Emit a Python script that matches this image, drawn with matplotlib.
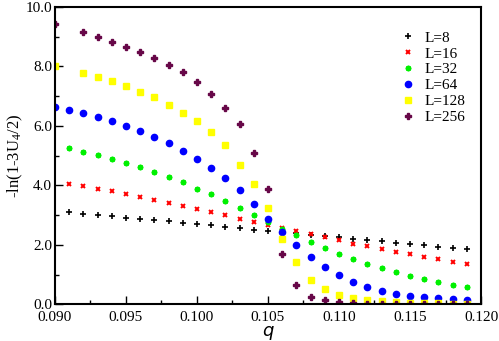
import numpy as np
import matplotlib
matplotlib.use('Agg')
import matplotlib.pyplot as plt
from matplotlib.ticker import MultipleLocator, FormatStrFormatter

## Datos
q = [0.090, 0.091, 0.092, 0.093, 0.094, 0.095, 0.096, 0.097, 0.098, 0.099,
     0.100, 0.101, 0.102, 0.103, 0.104, 0.105, 0.106, 0.107, 0.108, 0.109,
     0.110, 0.111, 0.112, 0.113, 0.114, 0.115, 0.116, 0.117, 0.118, 0.119]

# L=8, 16, 32 arrancan en q=0.091
y_L8 = [3.10, 3.05, 3.01, 2.96, 2.92, 2.87, 2.84, 2.79, 2.75, 2.70, 2.66, 2.61, 2.56, 2.51,
        2.48, 2.43, 2.39, 2.33, 2.29, 2.26, 2.21, 2.17, 2.12, 2.07, 2.03, 1.99, 1.94, 1.90, 1.86]
y_L16 = [4.06, 3.97, 3.89, 3.80, 3.72, 3.61, 3.51, 3.42, 3.31, 3.21, 3.11, 3.00, 2.88, 2.78,
         2.67, 2.56, 2.46, 2.36, 2.26, 2.15, 2.04, 1.95, 1.85, 1.76, 1.68, 1.59, 1.52, 1.42, 1.36]
y_L32 = [5.25, 5.14, 5.03, 4.89, 4.76, 4.61, 4.44, 4.28, 4.11, 3.89, 3.70, 3.48, 3.24, 3.02,
         2.78, 2.55, 2.33, 2.11, 1.90, 1.70, 1.53, 1.36, 1.21, 1.08, 0.95, 0.84, 0.75, 0.66, 0.59]
# L=64 desde q=0.090
y_L64 = [6.65, 6.55, 6.42, 6.30, 6.15, 5.99, 5.82, 5.62, 5.43, 5.17, 4.90, 4.59, 4.26, 3.83, 3.38,
         2.88, 2.44, 1.99, 1.59, 1.25, 0.98, 0.75, 0.58, 0.46, 0.36, 0.29, 0.25, 0.20, 0.18, 0.14]
# L=128, 256: q=0.090 y luego desde 0.092
y_L128 = [8.02, 7.78, 7.64, 7.50, 7.34, 7.15, 6.96, 6.71, 6.45, 6.16, 5.79, 5.35, 4.70, 4.05,
          3.25, 2.20, 1.42, 0.82, 0.53, 0.31, 0.22, 0.16, 0.11, 0.07, 0.05, 0.04, 0.03, 0.02, 0.02]
y_L256 = [9.43, 9.16, 9.00, 8.83, 8.67, 8.49, 8.30, 8.06, 7.80, 7.47, 7.07, 6.62, 6.05, 5.09,
          3.88, 1.68, 0.65, 0.26, 0.16, 0.09, 0.05, 0.02, 0.01, 0.01, 0.01, 0.0, 0.0, 0.0, 0.0]

labels = ['L=8', 'L=16', 'L=32', 'L=64', 'L=128', 'L=256']

q_tail = q[1:]
q_skip = q[:1] + q[2:]

series = [
    (q_tail, y_L8, '+', 'black', 5, 1.2),
    (q_tail, y_L16, 'x', '#ff0000', 3.5, 1.4),
    (q_tail, y_L32, (8, 2, 0), '#00f000', 4, 1.3),
    (q, y_L64, 'o', '#0000ff', 4.5, 0),
    (q_skip, y_L128, 's', '#ffff00', 4, 0),
    (q_skip, y_L256, 'P', '#670748', 4.5, 0),
]

plt.rcParams['font.family'] = ['Liberation Serif', 'DejaVu Serif']
plt.rcParams['mathtext.fontset'] = 'custom'
plt.rcParams['mathtext.rm'] = 'Liberation Serif'
plt.rcParams['mathtext.it'] = 'Liberation Serif:italic'

fig = plt.figure(figsize=(4.99, 3.41), dpi=100)
ax = fig.add_axes([0.110, 0.1076, 0.854, 0.8718])

for (xx, yy, mk, col, ms, mew), lab in zip(series, labels):
    if mew > 0:
        ax.plot(xx, yy, ls='none', marker=mk, color=col, ms=ms, mew=mew, label=lab)
    else:
        ax.plot(xx, yy, ls='none', marker=mk, color=col, ms=ms, mec=col, label=lab)

ax.set_xlim(0.090, 0.120)
ax.set_ylim(0.0, 10.0)

ax.xaxis.set_major_locator(MultipleLocator(0.005))
ax.xaxis.set_minor_locator(MultipleLocator(0.0025))
ax.yaxis.set_major_locator(MultipleLocator(2.0))
ax.yaxis.set_minor_locator(MultipleLocator(1.0))
ax.xaxis.set_major_formatter(FormatStrFormatter('%.3f'))
ax.yaxis.set_major_formatter(FormatStrFormatter('%.1f'))

ax.tick_params(which='both', direction='in', top=False, right=False, labelsize=11, width=1.0)
ax.tick_params(which='major', length=6)
ax.tick_params(which='minor', length=3)
ax.tick_params(axis='x', which='major', pad=4.5)
ax.tick_params(axis='y', which='major', pad=2)

for s in ax.spines.values():
    s.set_linewidth(1.5)

ax.set_xlabel('q', fontsize=13, family='DejaVu Sans', style='italic', labelpad=-1)
ax.set_ylabel(r'-ln(1-3U$_{\mathrm{4}}$/2)', fontsize=12, labelpad=0.5)

ax.legend(loc='upper left', bbox_to_anchor=(0.792, 0.945), frameon=False, fontsize=11,
          handlelength=1.0, handletextpad=0.6, labelspacing=0.14, borderpad=0, numpoints=1)

plt.savefig('out.png', dpi=100)
